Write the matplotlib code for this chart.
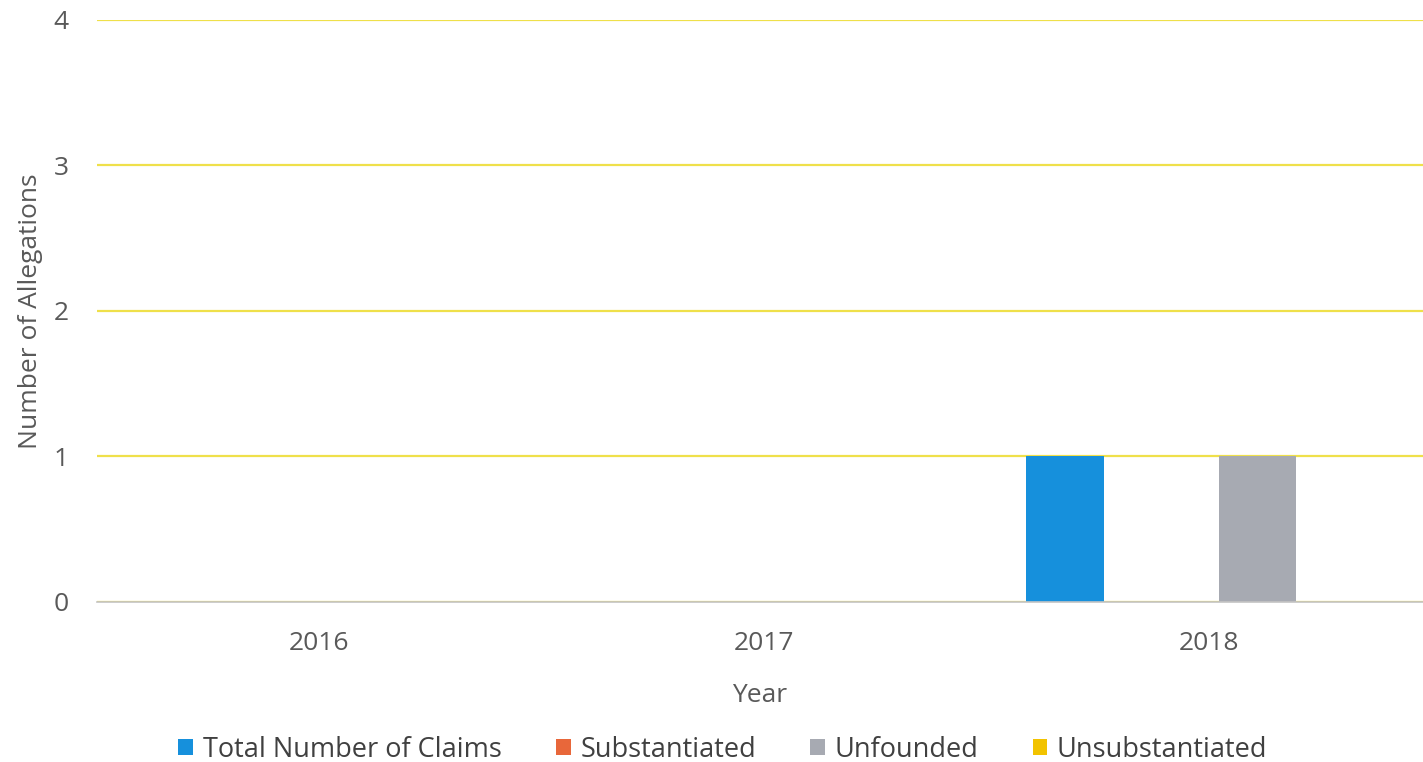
import matplotlib
matplotlib.use("Agg")
import matplotlib.pyplot as plt
import numpy as np

years = ["2016", "2017", "2018"]
series_names = ["Total Number of Claims", "Substantiated", "Unfounded", "Unsubstantiated"]
total_claims = [0, 0, 1]
substantiated = [0, 0, 0]
unfounded = [0, 0, 1]
unsubstantiated = [0, 0, 0]
colors = ["#1690dc", "#e8673a", "#a7aab2", "#f2c300"]

plt.rcParams['font.family'] = ['Open Sans', 'DejaVu Sans']

fig = plt.figure(figsize=(14.23, 7.62), dpi=100)
ax = fig.add_axes([0.068, 0.21, 0.932, 0.764])

x = np.arange(len(years))
step = 0.216
width = 0.175
data = [total_claims, substantiated, unfounded, unsubstantiated]
for i, (vals, name, c) in enumerate(zip(data, series_names, colors)):
    ax.bar(x + (i - 1.5) * step, vals, width=width, color=c, label=name, zorder=3)

ax.set_xlim(-0.5, 2.48)
ax.set_ylim(0, 4)
ax.set_yticks([0, 1, 2, 3, 4])
ax.yaxis.grid(True, color="#efe04a", linewidth=1.6, zorder=0)
ax.set_axisbelow(True)
for s in ["top", "right", "left"]:
    ax.spines[s].set_visible(False)
ax.spines["bottom"].set_color("#c4c4c4")
ax.spines["bottom"].set_linewidth(1.2)
ax.spines["bottom"].set_zorder(4)
ax.tick_params(axis="both", length=0, colors="#595959", labelsize=19)
ax.tick_params(axis="y", pad=20)
ax.tick_params(axis="x", pad=21)
ax.set_xticks(x)
ax.set_xticklabels(years)
ax.set_xlabel("Year", fontsize=19, color="#595959", labelpad=19)
ax.set_ylabel("Number of Allegations", fontsize=19, color="#595959", labelpad=8)

fig.legend(loc="lower center", bbox_to_anchor=(0.508, -0.034), ncol=4, frameon=False,
           fontsize=19.5, handlelength=0.55, handleheight=0.55, handletextpad=0.35,
           columnspacing=2.0, labelcolor="#404040")

fig.savefig("out.png", dpi=100)
